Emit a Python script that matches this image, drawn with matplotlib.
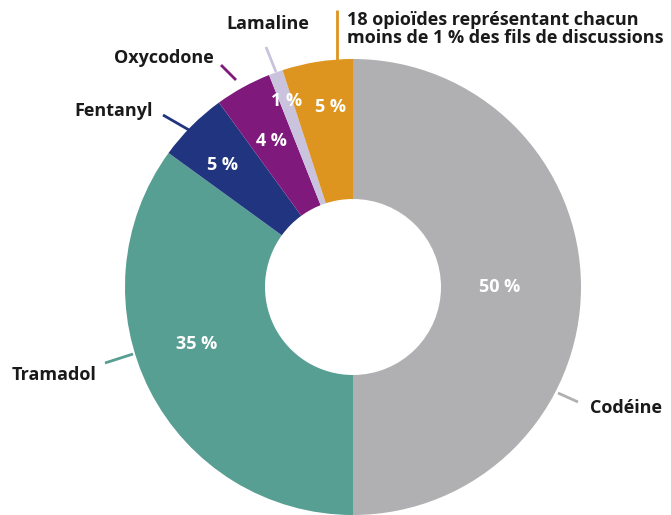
import matplotlib.pyplot as plt
import numpy as np

plt.rcParams['font.family'] = ['Open Sans', 'DejaVu Sans']

# données
noms = ['Codéine', 'Tramadol', 'Fentanyl', 'Oxycodone', 'Lamaline',
        '18 opioïdes représentant chacun\nmoins de 1 % des fils de discussions']
parts = [50, 35, 5, 4, 1, 5]
couleurs = ['#b0b0b2', '#579e93', '#21347f', '#80197c', '#c9c3de', '#dd951f']

W, H = 671, 515
fig = plt.figure(figsize=(W / 100, H / 100), dpi=100)
ax = fig.add_axes([0, 0, 1, 1])

cx, cy = 353, H - 287
R = 228
wedges, _ = ax.pie(parts, colors=couleurs, startangle=90, counterclock=False,
                   radius=R, center=(cx, cy), frame=True,
                   wedgeprops=dict(width=140, linewidth=0))
ax.set_xlim(0, W)
ax.set_ylim(0, H)
ax.set_aspect('equal')
ax.axis('off')

# étiquettes de pourcentage (distance relative, décalage d'angle)
pct_pos = [(0.645, 0), (0.73, -7), (0.785, 2), (0.735, 0.5), (0.865, 0), (0.795, -2)]
for w, p, (d, da) in zip(wedges, parts, pct_pos):
    ang = np.deg2rad((w.theta1 + w.theta2) / 2 + da)
    ax.text(cx + d * R * np.cos(ang), cy + d * R * np.sin(ang), f'{p} %',
            color='white', fontsize=13, fontweight='bold', ha='center', va='center')

# étiquettes extérieures avec traits de rappel
def y(v):
    return H - v

lignes = [((558, 393), (578, 402)), ((133, 354), (105, 363)), ((189, 130), (163, 115)),
          ((236, 80), (221, 65)), ((276, 72), (266, 47)), ((337, 60), (337, 10))]
textes = [((590, 408), 'left', 'center'), ((97, 375), 'right', 'center'),
          ((153, 111), 'right', 'center'), ((214, 58), 'right', 'center'),
          ((268, 24), 'center', 'center'), ((347, 29), 'left', 'center')]
for nom, c, (a, b), ((tx, ty), ha, va) in zip(noms, couleurs, lignes, textes):
    ax.plot([a[0], b[0]], [y(a[1]), y(b[1])], color=c, lw=2, solid_capstyle='butt')
    ax.text(tx, y(ty), nom, fontsize=13, fontweight='bold', ha=ha, va=va,
            color='#1a1a1a', linespacing=0.95)

fig.savefig('out.png', dpi=100)
